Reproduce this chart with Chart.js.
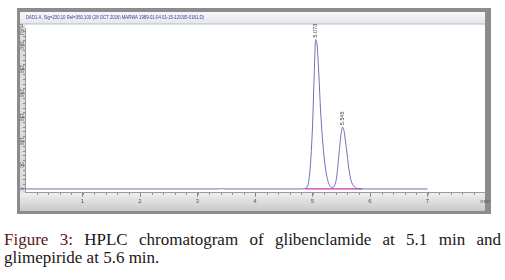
<!DOCTYPE html>
<html>
<head>
<meta charset="utf-8">
<script src="https://cdn.jsdelivr.net/npm/chart.js@4.4.1/dist/chart.umd.min.js"></script>
<style>
  body { margin: 0; background: #fff; width: 505px; height: 280px; overflow: hidden; }
  #wrap { position: absolute; left: 0; top: 0; width: 505px; height: 218px; }
  .cap {
    position: absolute; left: 4px; width: 497px;
    font-family: "Liberation Serif", "DejaVu Serif", serif; font-size: 17px;
    line-height: 18px; color: #231515; white-space: nowrap;
  }
  #cap1 { top: 231px; text-align: justify; text-align-last: justify; white-space: normal; }
  #cap2 { top: 249px; }
  .cap b { color: #5a1818; font-weight: normal; }
</style>
</head>
<body>
<div id="wrap"><canvas id="hplc" width="505" height="218"></canvas></div>
<div class="cap" id="cap1"><b>Figure 3:</b> HPLC chromatogram of glibenclamide at 5.1 min and</div>
<div class="cap" id="cap2">glimepiride at 5.6 min.</div>
<script>
// retention time (min) and detector signal (mAU)
const retention = [0, 3.38, 3.42, 3.46, 4.80, 4.87, 4.92, 4.96, 5.00, 5.03, 5.055, 5.08, 5.11, 5.14, 5.18, 5.22, 5.26, 5.30, 5.34, 5.38, 5.42, 5.46, 5.50, 5.525, 5.55, 5.59, 5.63, 5.67, 5.72, 5.78, 5.88, 7.0];
const signal    = [0, 0, 1, 0, 0, 1, 8, 45, 130, 240, 312, 300, 240, 165, 95, 48, 20, 7, 3, 6, 25, 72, 118, 129, 120, 84, 44, 18, 6, 1, 0, 0];

// integration baseline under both peaks
const baseRt = [4.87, 5.86];
const baseY = [0, 0];

const peakRt = [5.055, 5.525];
const peakTop = [312, 129];
const peakNames = ['5.073', '5.545'];

const yTickVals = [0, 50, 100, 150, 200, 250, 300];
const xTickVals = [1, 2, 3, 4, 5, 6, 7];
const titleText = 'DAD1 A, Sig=230,10 Ref=360,100 (28 OCT 2016\\ MARWA 1989-01-04 01-15-12\\005-0181.D)';

const traceColor = '#7070b8';

const frame = {
  id: 'frame',
  beforeDraw(chart) {
    const { ctx, chartArea: a } = chart;
    ctx.save();
    // window border
    ctx.fillStyle = '#8c8c8c';
    ctx.fillRect(17, 8, 474, 206);
    ctx.fillStyle = '#ffffff';
    ctx.fillRect(20, 12, 465, 199);
    // title strip
    const g = ctx.createLinearGradient(0, 12, 0, 24);
    g.addColorStop(0, '#f6f7f9');
    g.addColorStop(1, '#e4e7ea');
    ctx.fillStyle = g;
    ctx.fillRect(20, 12, 465, 12);
    ctx.fillStyle = '#b8bcc2';
    ctx.fillRect(20, 23.5, 465, 1);
    ctx.fillStyle = '#3c3c96';
    ctx.font = '5px Arial';
    ctx.textBaseline = 'middle';
    ctx.fillText(titleText, 26, 17.5, 178);
    // left ruler
    ctx.fillStyle = '#dcdcdc';
    ctx.fillRect(20, 24, a.left - 20, a.bottom - 24);
    // bottom ruler
    const gb = ctx.createLinearGradient(0, a.bottom, 0, 211);
    gb.addColorStop(0, '#f0f0f0');
    gb.addColorStop(1, '#c9c9c9');
    ctx.fillStyle = gb;
    ctx.fillRect(20, a.bottom, 465, 211 - a.bottom);
    ctx.restore();
  },
  afterDraw(chart) {
    const { ctx, chartArea: a, scales } = chart;
    const x = scales.x, y = scales.y;
    ctx.save();
    // minor ticks
    ctx.strokeStyle = '#8a8a8a';
    ctx.lineWidth = 1;
    ctx.beginPath();
    for (let v = 0.2; v < 8; v += 0.2) {
      const px = Math.round(x.getPixelForValue(v)) + 0.5;
      ctx.moveTo(px, a.bottom);
      ctx.lineTo(px, a.bottom + 2);
    }
    for (let v = 10; v < 336; v += 10) {
      const py = Math.round(y.getPixelForValue(v)) + 0.5;
      ctx.moveTo(a.left, py);
      ctx.lineTo(a.left - 2, py);
    }
    ctx.stroke();
    // y labels, rotated
    ctx.fillStyle = '#555';
    ctx.font = '5px Arial';
    ctx.textAlign = 'center';
    ctx.textBaseline = 'middle';
    const yl = yTickVals.map(String).concat(['mAU']);
    const yv = yTickVals.concat([332]);
    yl.forEach((t, i) => {
      ctx.save();
      ctx.translate(21.5, y.getPixelForValue(yv[i]));
      ctx.rotate(Math.PI / 2);
      ctx.fillText(t, 0, 0);
      ctx.restore();
    });
    // peak retention labels
    ctx.fillStyle = '#444';
    ctx.font = '5.5px Arial';
    ctx.textAlign = 'left';
    peakRt.forEach((rt, i) => {
      ctx.save();
      ctx.translate(x.getPixelForValue(rt), y.getPixelForValue(peakTop[i]) - 2);
      ctx.rotate(-Math.PI / 2);
      ctx.fillText(peakNames[i], 0, 0);
      ctx.restore();
    });
    ctx.restore();
  }
};

new Chart(document.getElementById('hplc'), {
  type: 'line',
  data: {
    datasets: [
      {
        data: retention.map((t, i) => ({ x: t, y: signal[i] })),
        borderColor: traceColor,
        borderWidth: 1,
        pointRadius: 0,
        cubicInterpolationMode: 'monotone'
      },
      {
        data: baseRt.map((t, i) => ({ x: t, y: baseY[i] })),
        borderColor: '#d02ac8',
        borderWidth: 1.2,
        pointRadius: 0
      }
    ]
  },
  options: {
    responsive: false,
    animation: false,
    layout: { padding: { left: 0, right: 20, top: 28, bottom: 12 } },
    plugins: { legend: { display: false }, tooltip: { enabled: false } },
    scales: {
      x: {
        type: 'linear',
        min: 0,
        max: 8,
        afterBuildTicks: s => { s.ticks = xTickVals.concat([8]).map(v => ({ value: v })); },
        ticks: {
          font: { size: 6, family: 'Arial' },
          color: '#555',
          padding: 1,
          maxRotation: 0,
          callback: v => (v === 8 ? 'min' : v)
        },
        grid: { drawOnChartArea: false, tickLength: 4, color: '#8a8a8a' },
        border: { color: '#9a9a9a' }
      },
      y: {
        min: -8,
        max: 336,
        afterFit: s => { s.width = 25; },
        ticks: { display: false },
        afterBuildTicks: s => { s.ticks = yTickVals.map(v => ({ value: v })); },
        grid: { drawOnChartArea: false, tickLength: 4, color: '#8a8a8a' },
        border: { color: '#9a9a9a' }
      }
    }
  },
  plugins: [frame]
});
</script>
</body>
</html>
